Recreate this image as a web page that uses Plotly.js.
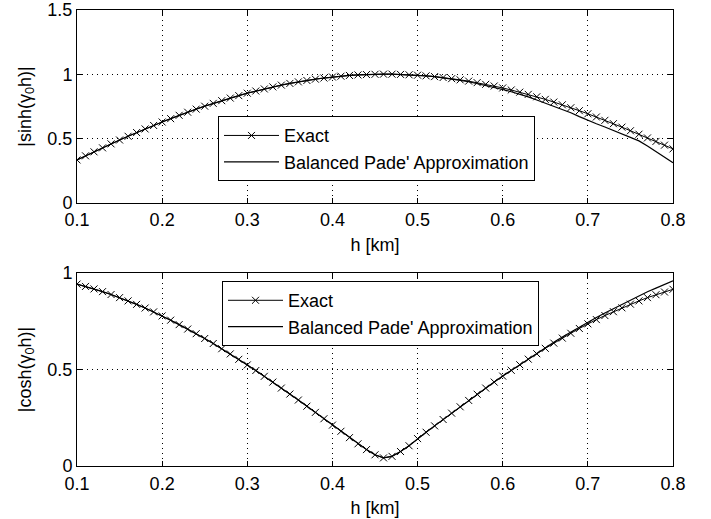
<!DOCTYPE html>
<html>
<head>
<meta charset="utf-8">
<script src="https://cdn.plot.ly/plotly-3.0.1.min.js"></script>
<style>html,body{margin:0;padding:0;background:#fff;}#chart{width:711px;height:519px;}</style>
</head>
<body>
<div id="chart"></div>
<script>
var h = [0.10,0.11,0.12,0.13,0.14,0.15,0.16,0.17,0.18,0.19,
         0.20,0.21,0.22,0.23,0.24,0.25,0.26,0.27,0.28,0.29,
         0.30,0.31,0.32,0.33,0.34,0.35,0.36,0.37,0.38,0.39,
         0.40,0.41,0.42,0.43,0.44,0.45,0.46,0.47,0.48,0.49,
         0.50,0.51,0.52,0.53,0.54,0.55,0.56,0.57,0.58,0.59,
         0.60,0.61,0.62,0.63,0.64,0.65,0.66,0.67,0.68,0.69,
         0.70,0.71,0.72,0.73,0.74,0.75,0.76,0.77,0.78,0.79,0.80];

var sinhExact = [0.334,0.366,0.397,0.428,0.459,0.489,0.518,0.547,0.575,0.602,
                 0.629,0.655,0.681,0.705,0.729,0.752,0.774,0.795,0.815,0.834,
                 0.853,0.870,0.886,0.902,0.916,0.929,0.941,0.952,0.962,0.971,
                 0.979,0.985,0.991,0.995,0.998,1.000,1.001,1.001,0.999,0.996,
                 0.993,0.988,0.982,0.975,0.966,0.957,0.947,0.935,0.922,0.909,
                 0.894,0.878,0.861,0.844,0.825,0.805,0.784,0.763,0.740,0.717,
                 0.693,0.668,0.642,0.616,0.589,0.561,0.534,0.505,0.478,0.449,0.420];

var sinhPade = [0.334,0.366,0.397,0.428,0.459,0.489,0.518,0.547,0.575,0.602,
                0.629,0.655,0.681,0.705,0.729,0.752,0.774,0.795,0.815,0.834,
                0.853,0.870,0.886,0.902,0.916,0.929,0.941,0.952,0.962,0.971,
                0.979,0.985,0.991,0.995,0.998,1.000,1.001,1.001,0.999,0.996,
                0.993,0.988,0.982,0.974,0.964,0.953,0.942,0.928,0.914,0.899,
                0.882,0.864,0.845,0.824,0.800,0.776,0.752,0.727,0.701,0.671,
                0.640,0.615,0.590,0.562,0.535,0.508,0.482,0.442,0.400,0.356,0.312];

var coshExact = [0.943,0.931,0.918,0.904,0.889,0.873,0.856,0.838,0.819,0.799,
                 0.778,0.756,0.733,0.710,0.686,0.661,0.635,0.608,0.581,0.553,
                 0.524,0.495,0.465,0.435,0.404,0.373,0.342,0.310,0.278,0.245,
                 0.212,0.180,0.147,0.115,0.085,0.058,0.042,0.050,0.075,0.105,
                 0.142,0.175,0.208,0.241,0.274,0.307,0.340,0.372,0.404,0.435,
                 0.466,0.496,0.525,0.554,0.582,0.610,0.637,0.663,0.688,0.713,
                 0.737,0.759,0.780,0.800,0.820,0.839,0.856,0.873,0.888,0.902,0.916];

var coshPade = [0.943,0.931,0.918,0.904,0.889,0.873,0.856,0.838,0.819,0.799,
                0.778,0.756,0.733,0.710,0.686,0.661,0.635,0.608,0.581,0.553,
                0.524,0.495,0.465,0.435,0.404,0.373,0.342,0.310,0.278,0.245,
                0.212,0.180,0.147,0.115,0.085,0.058,0.042,0.050,0.075,0.105,
                0.142,0.175,0.208,0.241,0.274,0.307,0.340,0.372,0.404,0.435,
                0.466,0.496,0.526,0.556,0.585,0.614,0.642,0.669,0.695,0.721,
                0.746,0.770,0.793,0.815,0.837,0.862,0.883,0.903,0.922,0.941,0.960];

var seriesNames = ["Exact", "Balanced Pade' Approximation"];
var xTicks = [0.1,0.2,0.3,0.4,0.5,0.6,0.7,0.8];
var xTickText = ["0.1","0.2","0.3","0.4","0.5","0.6","0.7","0.8"];

var FONT = "'Liberation Sans', Arial, Helvetica, sans-serif";
var FS = 18;

var exactStyle = {
  mode: 'lines+markers',
  line: {color: '#000', width: 1},
  marker: {symbol: 'x-thin', size: 7, color: '#000', line: {color: '#000', width: 1}}
};
var padeStyle = {mode: 'lines', line: {color: '#000', width: 1.2}};

var traces = [
  Object.assign({x: h, y: sinhExact, name: seriesNames[0], xaxis: 'x', yaxis: 'y', legend: 'legend'}, exactStyle),
  Object.assign({x: h, y: sinhPade, name: seriesNames[1], xaxis: 'x', yaxis: 'y', legend: 'legend'}, padeStyle),
  Object.assign({x: h, y: coshExact, name: seriesNames[0], xaxis: 'x2', yaxis: 'y2', legend: 'legend2'}, exactStyle),
  Object.assign({x: h, y: coshPade, name: seriesNames[1], xaxis: 'x2', yaxis: 'y2', legend: 'legend2'}, padeStyle)
];

function xax(anchor) {
  return {
    anchor: anchor, range: [0.1, 0.8], tickvals: xTicks, ticktext: xTickText,
    ticks: 'inside', ticklen: 5, tickcolor: '#000', showline: true, linecolor: '#000', linewidth: 1,
    mirror: 'ticks', showgrid: true, gridcolor: '#000', gridwidth: 1, griddash: '1px,4px',
    zeroline: false, tickfont: {family: FONT, size: FS, color: '#000'}, ticklabelstandoff: 1,
    title: {text: 'h [km]', font: {family: FONT, size: FS, color: '#000'}, standoff: 8},
    automargin: false
  };
}
function yax(anchor, domain, range, tv, tt, title) {
  return {
    anchor: anchor, domain: domain, range: range, tickvals: tv, ticktext: tt,
    ticks: 'inside', ticklen: 5, tickcolor: '#000', showline: true, linecolor: '#000', linewidth: 1,
    mirror: 'ticks', showgrid: true, gridcolor: '#000', gridwidth: 1, griddash: '1px,4px',
    zeroline: false, tickfont: {family: FONT, size: FS, color: '#000'},
    title: {text: title, font: {family: FONT, size: FS, color: '#000'}, standoff: 11},
    automargin: false
  };
}

var legendBase = {
  bgcolor: '#fff', bordercolor: '#000', borderwidth: 1,
  font: {family: FONT, size: FS, color: '#000'},
  xanchor: 'left', yanchor: 'top', tracegroupgap: 0, itemwidth: 55
};

var layout = {
  width: 711, height: 519,
  margin: {l: 77, r: 38, t: 10, b: 53},
  paper_bgcolor: '#fff', plot_bgcolor: '#fff',
  showlegend: true,
  xaxis: xax('y'),
  yaxis: yax('x', [0.577, 1], [0, 1.5], [0, 0.5, 1, 1.5], ['0', '0.5', '1', '1.5'], '|sinh(γ<sub>0</sub>h)|'),
  xaxis2: xax('y2'),
  yaxis2: yax('x2', [0, 0.423], [0, 1], [0, 0.5, 1], ['0', '0.5', '1'], '|cosh(γ<sub>0</sub>h)|'),
  legend: Object.assign({x: 0.2366, y: 0.767}, legendBase),
  legend2: Object.assign({x: 0.2433, y: 0.4055}, legendBase)
};

Plotly.newPlot('chart', traces, layout, {displayModeBar: false, staticPlot: true});
</script>
</body>
</html>
